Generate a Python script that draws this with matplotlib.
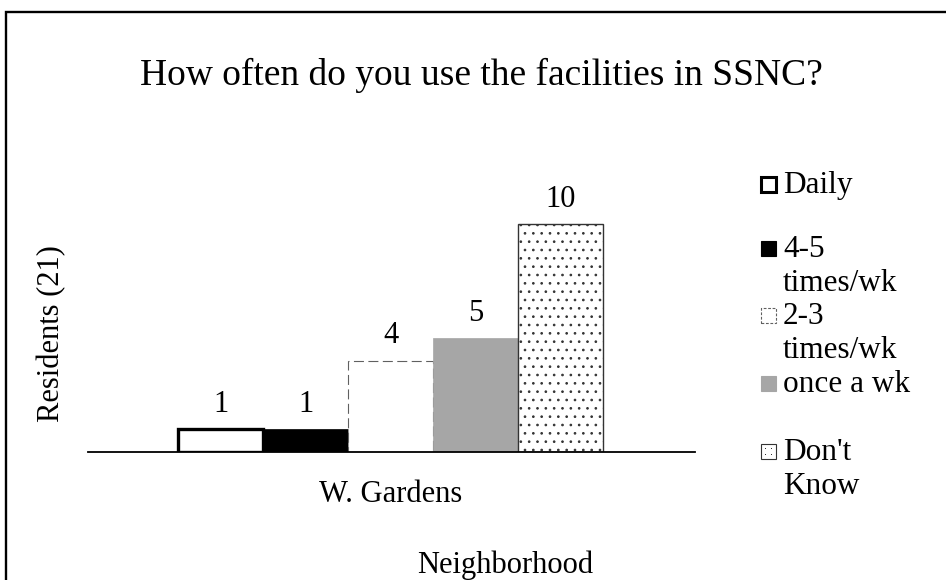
import matplotlib
matplotlib.use("Agg")
import matplotlib.pyplot as plt
from matplotlib.patches import Rectangle

plt.rcParams['font.family'] = ['Liberation Serif', 'DejaVu Serif']
plt.rcParams['hatch.linewidth'] = 0.7

# Survey responses for W. Gardens
neighborhood = "W. Gardens"
categories = ["Daily", "4-5\ntimes/wk", "2-3\ntimes/wk", "once a wk", "Don't\nKnow"]
counts = [1, 1, 4, 5, 10]

# Styling per response category
styles = [
    dict(facecolor="white", edgecolor="black", linewidth=2.4, linestyle="-", hatch=None),
    dict(facecolor="black", edgecolor="black", linewidth=0.5, linestyle="-", hatch=None),
    dict(facecolor="white", edgecolor="#606060", linewidth=0.8, linestyle=(0, (9, 4)), hatch=None),
    dict(facecolor="#a6a6a6", edgecolor="#a6a6a6", linewidth=0.5, linestyle="-", hatch=None),
    dict(facecolor="white", edgecolor="#333333", linewidth=1.0, linestyle="-", hatch=".."),
]

W, H = 946, 580
fig = plt.figure(figsize=(W / 100, H / 100), dpi=100)

# Outer chart frame (runs off the right and bottom edges)
fig.patches.append(Rectangle((6 / W, -0.05), 1.1, 1.05 - 12 / H, transform=fig.transFigure,
                             fill=False, edgecolor="black", linewidth=1.7))

ax_left, ax_right = 88, 695
ax_bottom, ax_top = 452, 140
ax = fig.add_axes([ax_left / W, (H - ax_bottom) / H, (ax_right - ax_left) / W, (ax_bottom - ax_top) / H])
ax.set_facecolor("none")

n = len(counts)
xs = [i - (n - 1) / 2 for i in range(n)]
half = (ax_right - ax_left) / 85 / 2
ax.set_xlim(-half + 0.01, half + 0.01)
ax.set_ylim(0, (ax_bottom - ax_top) / 22.8)

for x, v, st in zip(xs, counts, styles):
    ax.bar(x, v, width=1.0, facecolor=st["facecolor"], edgecolor=st["edgecolor"],
           linewidth=st["linewidth"], linestyle=st["linestyle"], hatch=st["hatch"])
    ax.annotate(str(v), (x, v), xytext=(0, 12.5), textcoords="offset points",
                ha="center", va="baseline", fontsize=22)

for s in ["left", "right", "top"]:
    ax.spines[s].set_visible(False)
ax.spines["bottom"].set_linewidth(1.3)
ax.set_yticks([])
ax.set_xticks([0])
ax.set_xticklabels([neighborhood], fontsize=22)
ax.tick_params(axis="x", length=0, pad=0)
for lbl in ax.get_xticklabels():
    lbl.set_verticalalignment("baseline")
    lbl.set_y(-(502 - ax_bottom) / (ax_bottom - ax_top))

fig.text(481 / W, 1 - 85 / H, "How often do you use the facilities in SSNC?",
         ha="center", va="baseline", fontsize=27)
fig.text(52 / W, 1 - 334 / H, "Residents (21)", rotation=90, ha="center", va="center", fontsize=22)
fig.text(505 / W, 1 - 573 / H, "Neighborhood", ha="center", va="baseline", fontsize=22)

# Legend: marker squares with wrapped labels
leg_base = [193, 257, 324, 392, 460]
line_step = 34
for label, y, st in zip(categories, leg_base, styles):
    sq = 15
    lw = 2.2 if st["linewidth"] > 2 else 0.8
    fig.patches.append(Rectangle((761 / W, 1 - (y - 1) / H), sq / W, sq / H, transform=fig.transFigure,
                                 facecolor=st["facecolor"], edgecolor=st["edgecolor"], linewidth=lw,
                                 linestyle=(0, (2.5, 1.5)) if st["linestyle"] != "-" else "-"))
    if st["hatch"]:
        # a few dots inside the small marker square
        for dx in (4.5, 10.5):
            for dy in (4.5, 10.5):
                fig.patches.append(Rectangle(((761 + dx - 0.8) / W, 1 - (y - 1 - dy + 0.8) / H),
                                             1.6 / W, 1.6 / H, transform=fig.transFigure,
                                             facecolor="#333333", edgecolor="none"))
    for k, line in enumerate(label.split("\n")):
        fig.text(783 / W, 1 - (y + k * line_step) / H, line, ha="left", va="baseline", fontsize=22.5)

fig.savefig("out.png", dpi=100)
